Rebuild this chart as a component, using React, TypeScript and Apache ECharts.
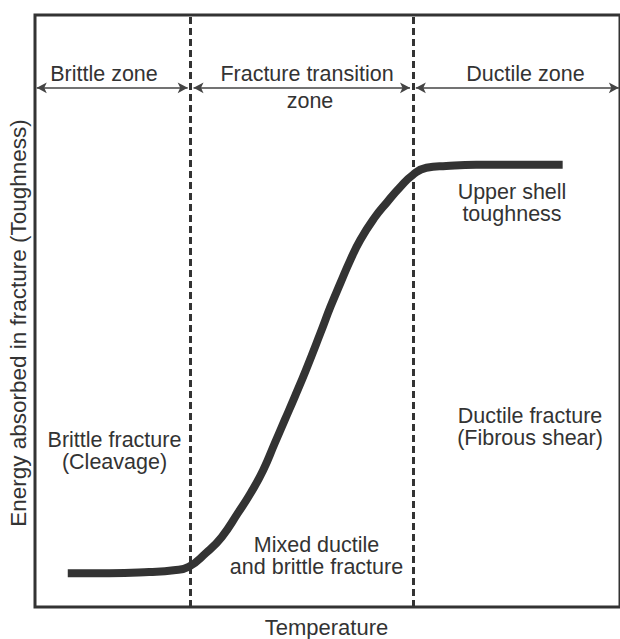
import React, { useEffect, useRef } from "react";
import * as echarts from "echarts";

// Curve: temperature (arbitrary units, 0-100) vs absorbed energy (arbitrary units, 0-100)
const temperature = [5.6, 12.7, 19.5, 23.7, 26.3, 29.2, 31.9, 34.7, 36.9, 39.0, 41.0, 42.7, 44.4, 46.3, 48.8, 50.5, 52.2, 53.9, 55.6, 58.0, 60.2, 62.4, 64.6, 66.9, 70.3, 75.4, 82.2, 90.2];
const energy = [5.7, 5.7, 5.9, 6.2, 6.8, 9.1, 11.8, 15.9, 19.3, 23.1, 27.7, 31.6, 35.5, 40.0, 46.3, 50.7, 54.7, 58.6, 62.0, 65.7, 68.4, 70.9, 73.0, 74.2, 74.5, 74.7, 74.7, 74.7];

// Zone boundaries (temperature units)
const zoneBounds = [26.6, 64.6];
// Zone arrows: [start, end] in temperature units, drawn at arrowLevel energy
const zoneArrows = [
  [0.3, 26.1],
  [27.1, 64.1],
  [65.1, 99.8],
];
const arrowLevel = 87.7;

const xTitle = "Temperature";
const yTitle = "Energy absorbed in fracture (Toughness)";

const FONT = "'Liberation Sans', Arial, Helvetica, sans-serif";
const INK = "#333";

export default function App() {
  const ref = useRef<HTMLDivElement>(null);

  useEffect(() => {
    document.body.style.margin = "0";
    if (!ref.current) return;
    const chart = echarts.init(ref.current, null, { renderer: "svg" });

    const txt = (text: string, x: number, y: number, extra: any = {}, size = 21.5, lh = 22) => ({
      type: "text",
      x,
      y,
      silent: true,
      ...extra,
      style: {
        text,
        fill: INK,
        font: `${size}px ${FONT}`,
        lineHeight: lh,
        textAlign: "center",
        textVerticalAlign: "middle",
      },
    });

    chart.setOption({
      animation: false,
      backgroundColor: "#ffffff",
      grid: {
        left: 35,
        right: -5,
        top: 15,
        bottom: 32,
        show: true,
        borderColor: INK,
        borderWidth: 3,
        backgroundColor: "transparent",
      },
      xAxis: {
        type: "value",
        min: 0,
        max: 100,
        axisLine: { show: false },
        axisTick: { show: false },
        axisLabel: { show: false },
        splitLine: { show: false },
      },
      yAxis: {
        type: "value",
        min: 0,
        max: 100,
        axisLine: { show: false },
        axisTick: { show: false },
        axisLabel: { show: false },
        splitLine: { show: false },
      },
      series: [
        {
          type: "line",
          data: temperature.map((t, i) => [t, energy[i]]),
          smooth: 0.5,
          showSymbol: false,
          silent: true,
          lineStyle: { color: INK, width: 8, cap: "butt", join: "round" },
          markLine: {
            silent: true,
            symbol: "none",
            label: { show: false },
            lineStyle: { color: INK, width: 3, type: [7, 4] },
            data: zoneBounds.map((b) => ({ xAxis: b })),
          },
        },
        {
          type: "line",
          data: [],
          silent: true,
          markLine: {
            silent: true,
            symbol: ["arrow", "arrow"],
            symbolSize: [8, 10],
            label: { show: false },
            lineStyle: { color: "#444", width: 1.5, type: "solid" },
            data: zoneArrows.map(([a, b]) => [
              { coord: [a, arrowLevel] },
              { coord: [b, arrowLevel] },
            ]),
          },
        },
      ],
      graphic: [
        txt("Brittle zone", 104, 74),
        txt("Fracture transition", 307, 74),
        txt("zone", 310, 100.5),
        txt("Ductile zone", 525.5, 74),
        txt("Upper shell\ntoughness", 512, 203),
        txt("Ductile fracture\n(Fibrous shear)", 530, 426.5),
        txt("Brittle fracture\n(Cleavage)", 114.5, 450.5),
        txt("Mixed ductile\nand brittle fracture", 316.5, 555.5),
        txt(xTitle, 326.5, 627.5, {}, 22, 21),
        txt(yTitle, 18, 323, { rotation: Math.PI / 2 }, 22.5, 22),
      ],
    });

    return () => chart.dispose();
  }, []);

  return (
    <div
      ref={ref}
      style={{ position: "absolute", left: 0, top: 0, width: 620, height: 639 }}
    />
  );
}
